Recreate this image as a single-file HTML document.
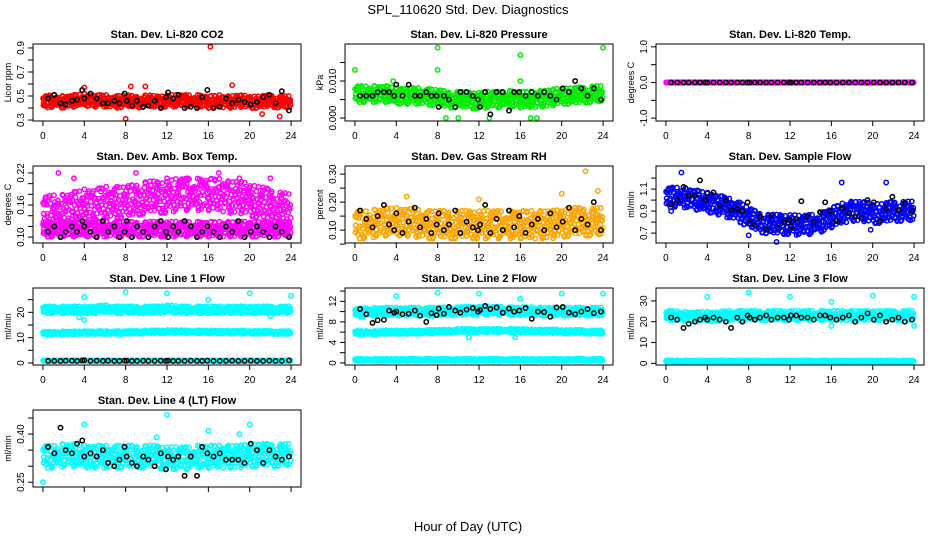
<!DOCTYPE html>
<html><head><meta charset="utf-8"><style>
body{margin:0;background:#fff}
svg{display:block;font-family:"Liberation Sans",Arial,sans-serif}
</style></head><body>
<svg id="chart" width="936" height="540" viewBox="0 0 936 540">
<text x="468" y="14" font-size="13" text-anchor="middle">SPL_110620  Std. Dev. Diagnostics</text>
<text x="468" y="531" font-size="13" text-anchor="middle">Hour of Day (UTC)</text>
</svg>
<script>
const hours25=[0,1,2,3,4,5,6,7,8,9,10,11,12,13,14,15,16,17,18,19,20,21,22,23,24];
const blackHours=[0.5,1.1,1.7,2.2,2.8,3.3,3.8,4.0,4.6,5.2,5.8,6.3,6.9,7.4,7.9,8.1,8.6,9.1,9.7,10.2,10.8,11.4,11.9,12.1,12.6,13.1,13.7,14.3,14.9,15.4,15.9,16.5,17.1,17.7,18.3,18.9,19.5,20.1,20.7,21.3,21.9,22.5,23.1,23.8];
const xTicks=[0,4,8,12,16,20,24];

const co2Center=[0.45,0.46,0.45,0.46,0.47,0.46,0.46,0.45,0.46,0.45,0.46,0.45,0.46,0.46,0.46,0.46,0.45,0.46,0.45,0.46,0.45,0.45,0.46,0.45,0.45];
const co2Black=[0.48,0.51,0.44,0.43,0.46,0.47,0.55,0.48,0.52,0.48,0.44,0.44,0.46,0.44,0.52,0.46,0.42,0.46,0.41,0.42,0.46,0.40,0.49,0.53,0.48,0.51,0.40,0.41,0.40,0.49,0.55,0.40,0.41,0.48,0.44,0.47,0.45,0.43,0.45,0.49,0.51,0.44,0.54,0.38];
const co2OutX=[16.2,8,22.9,4,9.9,18.3,8.5,21.2,0.2];
const co2OutY=[0.91,0.31,0.33,0.57,0.58,0.59,0.58,0.35,0.42];

const presCenter=[0.0065,0.0065,0.0065,0.0065,0.006,0.006,0.006,0.0058,0.0055,0.005,0.005,0.0048,0.0048,0.005,0.005,0.0052,0.005,0.005,0.0052,0.0055,0.006,0.006,0.0062,0.0065,0.0065];
const presBlack=[0.006,0.006,0.006,0.007,0.007,0.007,0.006,0.009,0.006,0.009,0.006,0.006,0.007,0.006,0.006,0.003,0.006,0.005,0.003,0.007,0.007,0.006,0.005,0.003,0.007,0.001,0.007,0.007,0.002,0.007,0.007,0.006,0.007,0.006,0.007,0.006,0.005,0.008,0.007,0.010,0.008,0.006,0.008,0.005];
const presOutX=[0,8,8,16,16,24,8.8,10,13,17,17.6,3.7];
const presOutY=[0.013,0.019,0.013,0.017,0.010,0.019,0,0,0,0,0,0.010];

const tempCenter=[0,0,0,0,0,0,0,0,0,0,0,0,0,0,0,0,0,0,0,0,0,0,0,0,0];
const tempBlack=[0,0,0,0,0,0,0,0,0,0,0,0,0,0,0,0,0,0,0,0,0,0,0,0,0,0,0,0,0,0,0,0,0,0,0,0,0,0,0,0,0,0,0,0];

const ambUpper=[0.145,0.15,0.15,0.155,0.16,0.16,0.165,0.165,0.165,0.17,0.175,0.175,0.175,0.18,0.18,0.18,0.18,0.18,0.175,0.175,0.17,0.165,0.16,0.155,0.15];
const ambLower=[0.115,0.115,0.115,0.115,0.115,0.115,0.115,0.115,0.115,0.115,0.115,0.115,0.115,0.115,0.115,0.115,0.115,0.115,0.115,0.115,0.115,0.115,0.115,0.115,0.115];
const ambBlack=[0.11,0.12,0.10,0.11,0.12,0.11,0.13,0.12,0.11,0.10,0.13,0.11,0.12,0.10,0.11,0.13,0.10,0.12,0.11,0.10,0.12,0.13,0.11,0.10,0.12,0.11,0.13,0.12,0.10,0.11,0.12,0.11,0.10,0.12,0.11,0.13,0.10,0.11,0.12,0.11,0.10,0.12,0.11,0.10];
const ambOutX=[1.5,3,9,12,14,17,19,22];
const ambOutY=[0.22,0.21,0.22,0.21,0.21,0.22,0.21,0.21];

const rhCenter=[0.12,0.12,0.125,0.13,0.13,0.13,0.125,0.12,0.12,0.12,0.12,0.12,0.12,0.12,0.12,0.12,0.12,0.12,0.12,0.12,0.125,0.13,0.13,0.13,0.13];
const rhBlack=[0.17,0.14,0.11,0.15,0.19,0.12,0.10,0.16,0.09,0.13,0.18,0.11,0.14,0.09,0.12,0.16,0.10,0.12,0.17,0.09,0.13,0.11,0.10,0.12,0.19,0.09,0.14,0.10,0.17,0.11,0.15,0.09,0.12,0.14,0.10,0.16,0.11,0.13,0.18,0.10,0.14,0.12,0.20,0.10];
const rhOutX=[22.3,5,12,20,23.5];
const rhOutY=[0.31,0.22,0.21,0.23,0.24];

const flowCenter=[1.02,1.03,1.02,1.0,0.98,0.96,0.93,0.9,0.84,0.8,0.78,0.78,0.78,0.77,0.78,0.8,0.84,0.88,0.9,0.9,0.88,0.88,0.9,0.9,0.9];
const flowBlack=[0.96,1.0,1.12,1.04,1.04,1.18,1.0,1.06,1.07,0.95,1.0,0.91,0.92,0.90,0.98,0.79,0.77,0.85,0.73,0.86,0.75,0.80,0.82,0.76,0.83,0.99,0.85,0.80,0.89,0.98,0.90,0.81,0.93,0.88,0.85,0.84,1.0,0.98,0.81,0.92,1.03,0.91,0.97,0.90];
const flowOutX=[1.5,10.7,17,21.3,8,19.8,0.5];
const flowOutY=[1.25,0.62,1.16,1.16,0.68,0.73,0.9];

const l1High=[21,21,21,21,21,21,21.5,21,21,21,21,21,21.5,21,21,21,21,21,21,21,21,21,21,21,21];
const l1Mid=[11.8,11.8,11.9,11.9,12,12,12,12,12,12.2,12.3,12.3,12.4,12.4,12.3,12.3,12.3,12.2,12.2,12.2,12.1,12.1,12.1,12,12];
const l1Low=[0.9,0.9,0.9,0.9,0.9,0.9,0.9,0.9,0.9,0.9,0.9,0.9,0.9,0.9,0.9,0.9,0.9,0.9,0.9,0.9,0.9,0.9,0.9,0.9,0.9];
const l1Black=[0.8,0.8,0.8,0.9,0.9,0.8,1.0,1.1,0.8,0.9,0.8,0.9,0.8,0.8,0.9,0.9,0.8,0.8,0.9,0.8,0.8,0.9,0.8,0.9,0.8,0.8,0.8,0.9,0.8,0.8,0.9,0.8,0.8,0.8,0.9,0.8,0.8,0.9,0.8,0.8,0.9,0.8,0.8,1.0];
const l1OutX=[4,8,12,16,20,24,3.5,4,22];
const l1OutY=[26,28,27.5,25,27.5,26.5,18,17,18.5];

const l2High=[9.8,9.9,10,10,10,10,10,10,10,10.1,10.1,10.2,10.2,10.2,10.2,10.1,10.1,10.1,10,10,10,10,10,10,10];
const l2Mid=[5.9,5.9,5.9,6,6,6,6,6.1,6.1,6.2,6.3,6.3,6.3,6.3,6.3,6.3,6.3,6.2,6.2,6.2,6.1,6.1,6.1,6,6];
const l2Low=[0.6,0.6,0.6,0.6,0.6,0.6,0.6,0.6,0.6,0.6,0.6,0.6,0.6,0.6,0.6,0.6,0.6,0.6,0.6,0.6,0.6,0.6,0.6,0.6,0.6];
const l2Black=[10.5,9.5,7.8,8.3,8.4,10.2,9.8,10.0,9.5,9.6,10.2,9.2,8.0,9.7,9.3,10.6,9.6,10.9,10.2,9.8,10.4,10.7,10.0,10.3,11.1,10.5,10.8,9.8,10.6,10.0,10.2,10.7,8.6,10.0,9.9,9.0,10.8,10.9,9.8,9.5,10.0,10.5,9.7,10.0];
const l2OutX=[4,8,12,16,20,24,11,15.5];
const l2OutY=[13,13.7,13.5,12.5,13.5,13.5,5,5];

const l3High=[23,23,22.5,22.5,22.5,22.5,23,23,23,23,23,23,23,23,23,23,23,23,23,23,23,23,23,23,23];
const l3Low=[1,1,1,1,1,1,1,1,1,1,1,1,1,1,1,1,1,1,1,1,1,1,1,1,1];
const l3Black=[22,21,17,19,20,21,22,21,22,21,20,17,22,20,23,22,21,22,23,21,22,22,21,23,23,22,22,21,23,23,22,21,22,23,20,22,24,21,23,20,21,22,20,21];
const l3OutX=[4,8,12,16,20,24,16,24];
const l3OutY=[32,34,32,29.5,32.5,32,18,18];

const l4Center=[0.33,0.33,0.335,0.335,0.33,0.33,0.33,0.33,0.33,0.33,0.33,0.33,0.325,0.325,0.325,0.33,0.33,0.33,0.33,0.33,0.335,0.335,0.335,0.335,0.335];
const l4Black=[0.36,0.34,0.42,0.35,0.34,0.37,0.38,0.33,0.34,0.33,0.35,0.31,0.30,0.32,0.36,0.33,0.31,0.30,0.33,0.32,0.30,0.34,0.29,0.33,0.32,0.33,0.27,0.33,0.27,0.36,0.34,0.33,0.34,0.32,0.32,0.32,0.31,0.37,0.35,0.31,0.35,0.33,0.32,0.33];
const l4OutX=[4,12,16,20,0,19,11];
const l4OutY=[0.43,0.46,0.41,0.43,0.25,0.40,0.39];

const NS='http://www.w3.org/2000/svg';
const svg=document.getElementById('chart');
const colX=[33,345,656], rowY=[44,166,288,410], W=268, H=77;
const jdx=[-0.47,-0.41,-0.33,-0.29,-0.22,-0.15,-0.11,-0.04,0.02,0.07,0.13,0.19,0.24,0.31,0.36,0.41,0.46,-0.37,-0.19,0.05,0.27,0.44,-0.08,0.16];
const jdy=[0.21,-0.83,0.52,-0.27,0.94,-0.61,0.08,0.73,-1.0,-0.12,0.41,-0.47,0.86,-0.92,0.33,-0.19,0.62,-0.71,0.15,-0.38,0.98,-0.05,0.47,-0.56];

function mk(tag,attrs,parent){const e=document.createElementNS(NS,tag);for(const k in attrs)e.setAttribute(k,attrs[k]);(parent||svg).appendChild(e);return e;}

const panels=[
 {title:'Stan. Dev. Li-820 CO2',yt:'Licor ppm',col:0,row:0,ymin:0.292,ymax:0.933,ticks:[0.3,0.4,0.5,0.6,0.7,0.8,0.9],labels:[0.3,0.5,0.7,0.9],fmt:1,color:'#ff0000',bands:[[co2Center,0.05]],outX:co2OutX,outY:co2OutY,black:co2Black},
 {title:'Stan. Dev. Li-820 Pressure',yt:'kPa',col:1,row:0,ymin:-0.0008,ymax:0.0200,ticks:[0,0.005,0.010,0.015],labels:[0,0.010],fmt:3,color:'#00ee00',bands:[[presCenter,0.0022]],outX:presOutX,outY:presOutY,black:presBlack},
 {title:'Stan. Dev. Li-820 Temp.',yt:'degrees C',col:2,row:0,ymin:-1.08,ymax:1.08,ticks:[-1,-0.5,0,0.5,1],labels:[-1,0,1],fmt:1,color:'#ff00ff',bands:[[tempCenter,0]],outX:[],outY:[],black:tempBlack},
 {title:'Stan. Dev. Amb. Box Temp.',yt:'degrees C',col:0,row:1,ymin:0.089,ymax:0.233,ticks:[0.10,0.12,0.14,0.16,0.18,0.20,0.22],labels:[0.10,0.16,0.22],fmt:2,color:'#ff00ff',bands:[[ambUpper,0.03],[ambLower,0.014]],outX:ambOutX,outY:ambOutY,black:ambBlack},
 {title:'Stan. Dev. Gas Stream RH',yt:'percent',col:1,row:1,ymin:0.054,ymax:0.329,ticks:[0.05,0.10,0.15,0.20,0.25,0.30],labels:[0.10,0.20,0.30],fmt:2,color:'#ffa500',bands:[[rhCenter,0.05]],outX:rhOutX,outY:rhOutY,black:rhBlack},
 {title:'Stan. Dev. Sample Flow',yt:'ml/min',col:2,row:1,ymin:0.61,ymax:1.31,ticks:[0.7,0.8,0.9,1.0,1.1,1.2],labels:[0.7,0.9,1.1],fmt:1,color:'#0000ff',bands:[[flowCenter,0.09]],outX:flowOutX,outY:flowOutY,black:flowBlack},
 {title:'Stan. Dev. Line 1 Flow',yt:'ml/min',col:0,row:2,ymin:-0.8,ymax:29.6,ticks:[0,5,10,15,20,25],labels:[0,10,20],fmt:0,color:'#00ffff',bands:[[l1High,1.4],[l1Mid,0.6],[l1Low,0.1]],outX:l1OutX,outY:l1OutY,black:l1Black},
 {title:'Stan. Dev. Line 2 Flow',yt:'ml/min',col:1,row:2,ymin:-0.4,ymax:14.6,ticks:[0,2,4,6,8,10,12,14],labels:[0,4,8,12],fmt:0,color:'#00ffff',bands:[[l2High,0.8],[l2Mid,0.35],[l2Low,0.2]],outX:l2OutX,outY:l2OutY,black:l2Black},
 {title:'Stan. Dev. Line 3 Flow',yt:'ml/min',col:2,row:2,ymin:-0.8,ymax:36.2,ticks:[0,10,20,30],labels:[0,10,20,30],fmt:0,color:'#00ffff',bands:[[l3High,2.3],[l3Low,0.4]],outX:l3OutX,outY:l3OutY,black:l3Black},
 {title:'Stan. Dev. Line 4 (LT) Flow',yt:'ml/min',col:0,row:3,ymin:0.235,ymax:0.475,ticks:[0.25,0.30,0.35,0.40,0.45],labels:[0.25,0.40],fmt:2,color:'#00ffff',bands:[[l4Center,0.035]],outX:l4OutX,outY:l4OutY,black:l4Black}
];

panels.forEach((p,i)=>{
 const L=colX[p.col], T=rowY[p.row];
 const g=mk('g',{});
 
 
 const xs=h=>L+(h+0.96)/25.92*W;
 const ys=v=>T+H-(v-p.ymin)/(p.ymax-p.ymin)*H;
 const t=mk('text',{x:L+W/2,y:T-6,'font-size':11,'font-weight':'bold','text-anchor':'middle'},g);
 t.textContent=p.title;
 
 
 const pts=mk('g',{fill:'none','stroke-width':1.5},g);
 
 
 p.bands.forEach(b=>{
  const c=b[0], s=b[1];
  for(let hi=0;hi<hours25.length;hi++){
   for(let k=0;k<jdx.length;k++){
    const sh=(hi*7+k*5)%jdx.length;
    const x=hours25[hi]+jdx[k];
    if(x<0||x>24)continue;
    const j=Math.min(hours25.length-1,hi+1);
    const f=Math.abs(jdx[k]);
    const base=jdx[k]>=0?c[hi]*(1-f)+c[j]*f:c[hi]*(1-f)+c[Math.max(0,hi-1)]*f;
    const cc=mk('circle',{cx:xs(x),cy:ys(base+s*jdy[sh]),r:2.2,stroke:p.color},pts);
    
    
   }
  }
 });
 p.outX.forEach((x,k)=>{
  const cc=mk('circle',{cx:xs(x),cy:ys(p.outY[k]),r:2.2,stroke:p.color},pts);
  
  
 });
 p.black.forEach((v,k)=>{
  const cc=mk('circle',{cx:xs(blackHours[k]),cy:ys(v),r:2.2,stroke:'#000'},pts);
  
  
 });
 const r=mk('rect',{x:L,y:T,width:W,height:H,fill:'none',stroke:'#000','stroke-width':1},g);
 
 
 const xa=mk('g',{stroke:'#000','stroke-width':1},g);
 
 
 mk('line',{x1:xs(0),x2:xs(24),y1:T+H,y2:T+H},xa);
 xTicks.forEach(h=>{
  mk('line',{x1:xs(h),x2:xs(h),y1:T+H,y2:T+H+5},xa);
  if(p.row<3){
   const tl=mk('text',{x:xs(h),y:T+H+18,'font-size':10,'text-anchor':'middle',stroke:'none'},g);
   tl.textContent=h;
   
   
  }
 });
 const ya=mk('g',{stroke:'#000','stroke-width':1},g);
 
 
 mk('line',{x1:L,x2:L,y1:ys(p.ticks[0]),y2:ys(p.ticks[p.ticks.length-1])},ya);
 p.ticks.forEach(v=>mk('line',{x1:L-5,x2:L,y1:ys(v),y2:ys(v)},ya));
 p.labels.forEach(v=>{
  const yy=ys(v), xx=L-9;
  const tl=mk('text',{x:xx,y:yy,'font-size':10,'text-anchor':'middle',transform:'rotate(-90 '+xx+' '+yy+')'},g);
  tl.textContent=v.toFixed(p.fmt);
  
  
 });
 const yx=L-22, yy=T+H/2;
 const yt=mk('text',{x:yx,y:yy,'font-size':9,'text-anchor':'middle',transform:'rotate(-90 '+yx+' '+yy+')'},g);
 yt.textContent=p.yt;
 
 
});
</script>
</body></html>
